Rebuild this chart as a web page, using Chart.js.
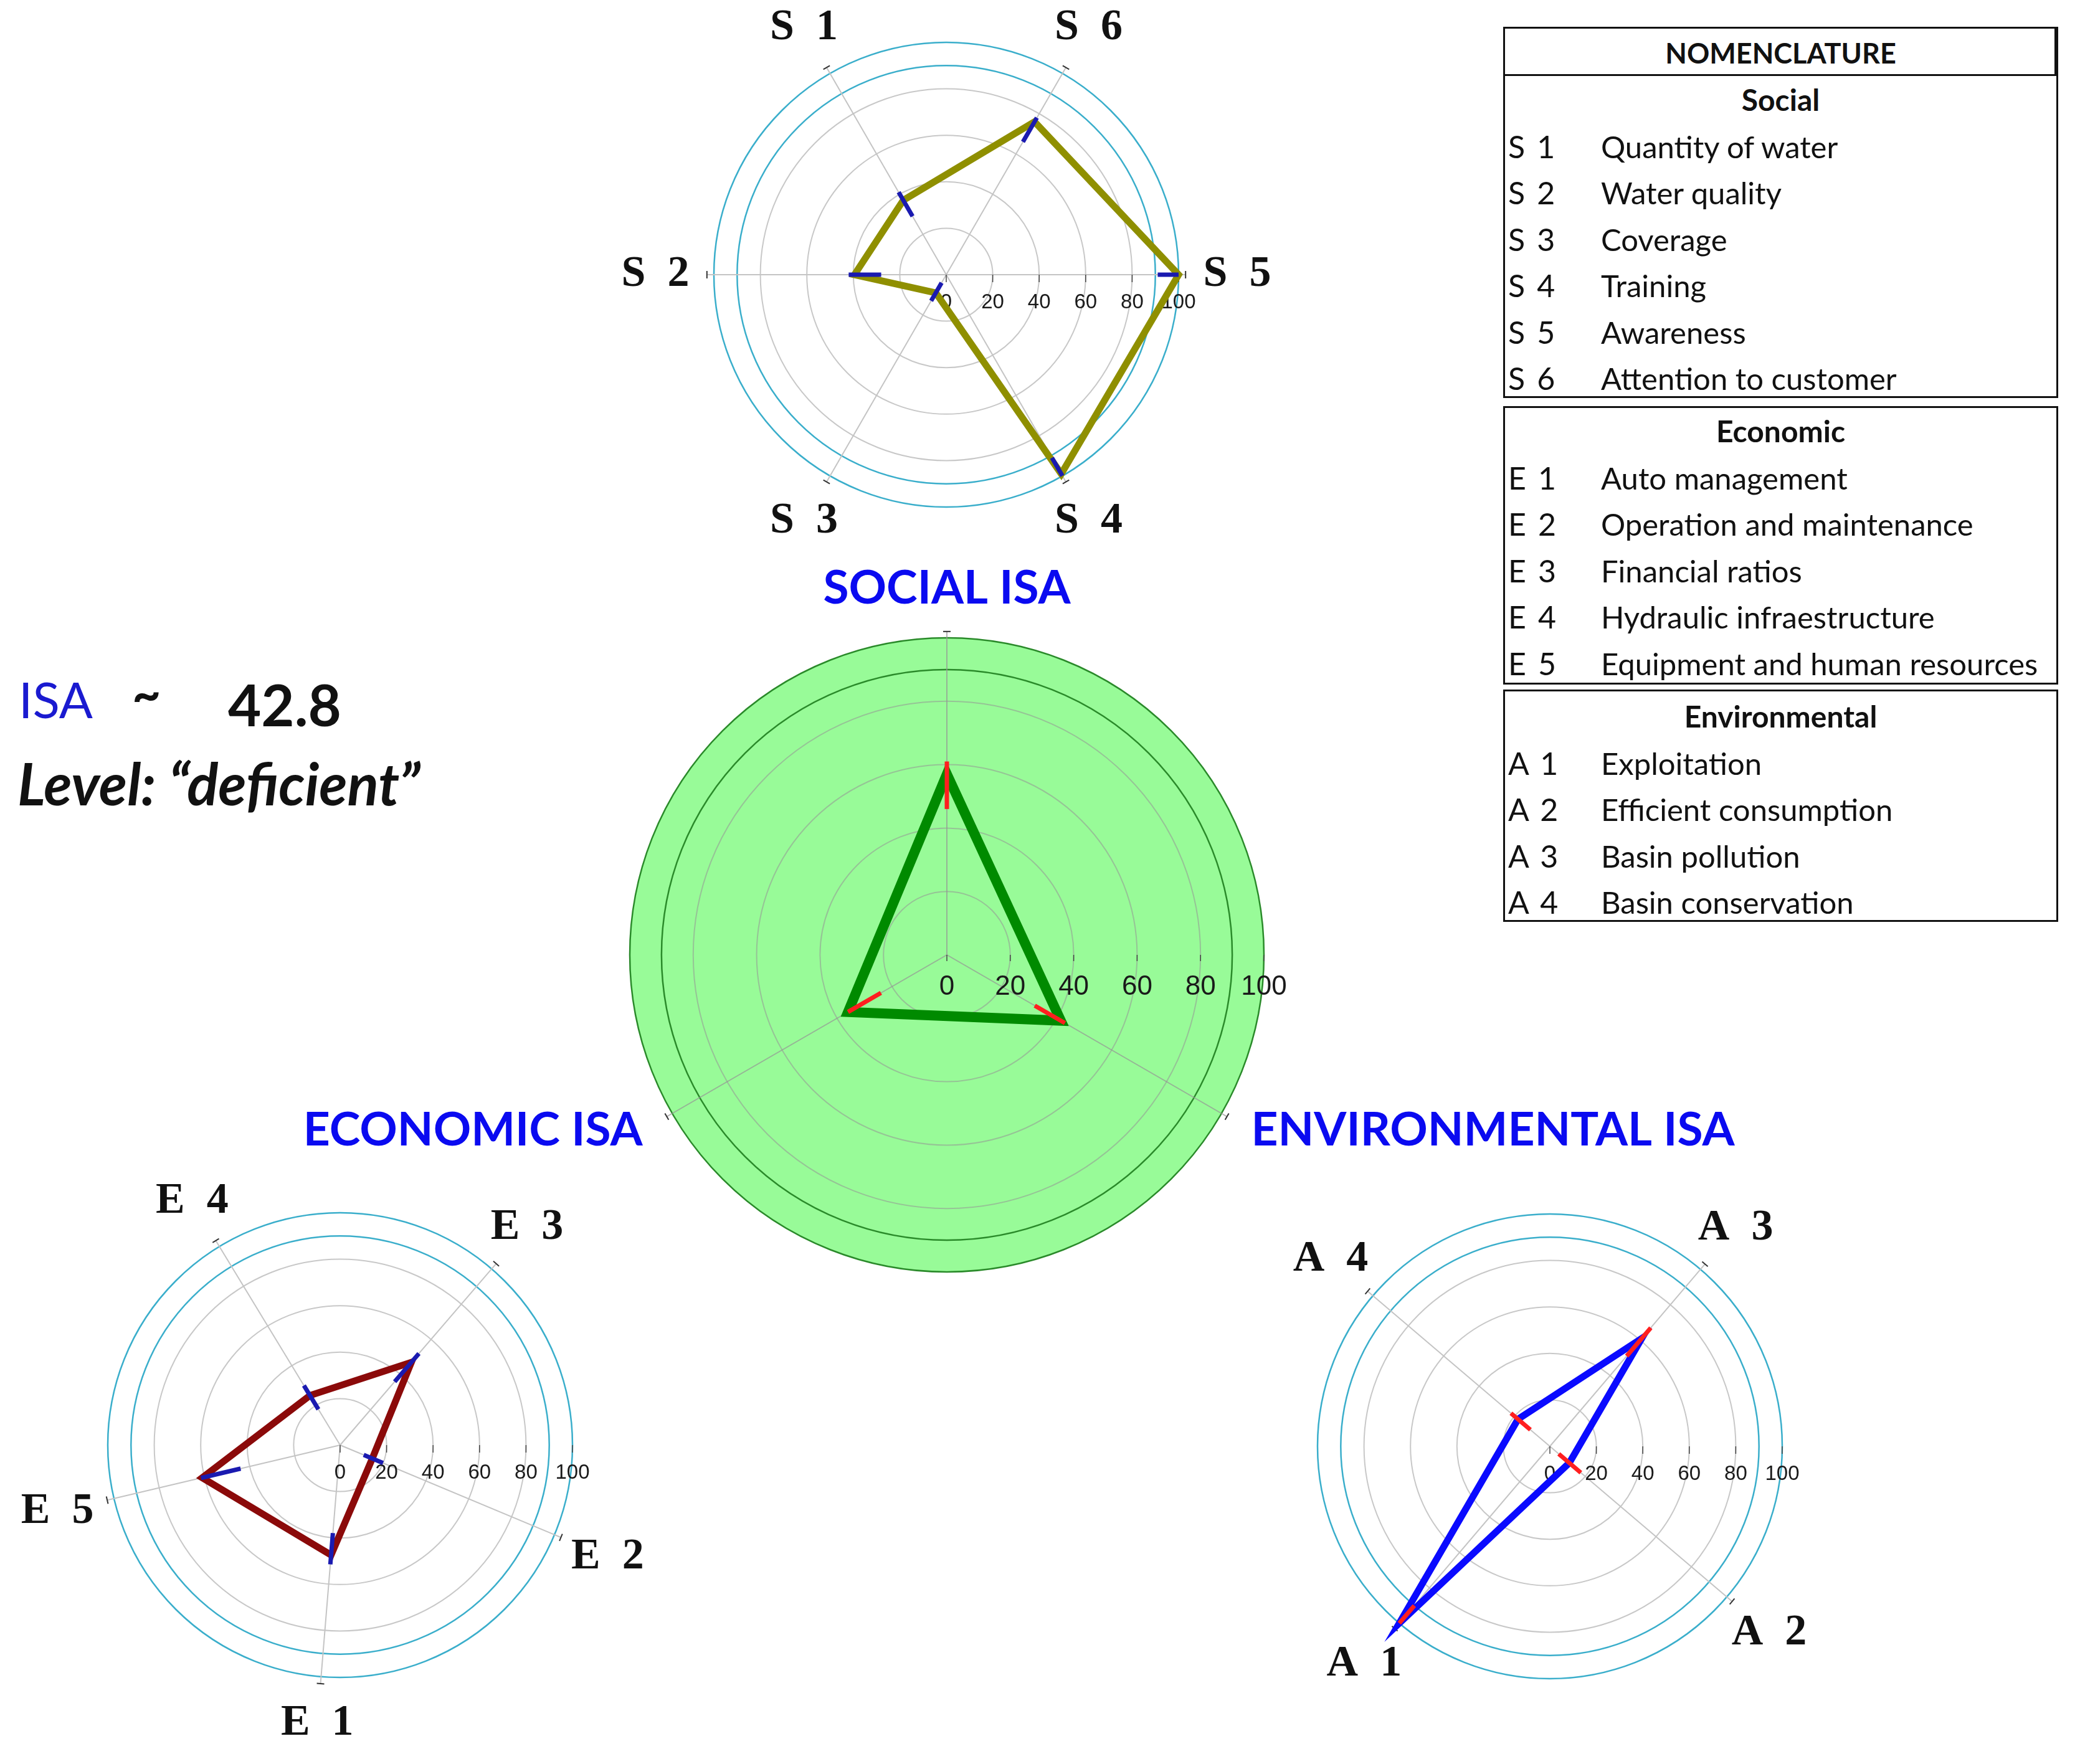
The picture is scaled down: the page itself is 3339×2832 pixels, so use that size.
<!DOCTYPE html>
<html>
<head>
<meta charset="utf-8">
<script src="https://cdn.jsdelivr.net/npm/chart.js@4.4.1/dist/chart.umd.min.js"></script>
<style>
    body { margin: 0; width: 3339px; height: 2832px; background: #fff; position: relative; overflow: hidden; }
    canvas { position: absolute; }
    .txt { position: absolute; white-space: pre; line-height: 1; }
    .box { position: absolute; border: 3px solid #111; box-sizing: border-box; }
    .row { position: absolute; white-space: pre; font-family: Lato, sans-serif; font-size: 50px; color: #111; height: 74px; line-height: 74px; }
</style>
</head>
<body>
<canvas id="isaChart" width="2600" height="1400" style="left:220px; top:833px"></canvas>
<canvas id="socialChart" width="1160" height="1160" style="left:939px; top:-139px"></canvas>
<canvas id="economicChart" width="1160" height="1160" style="left:-34px; top:1740px"></canvas>
<canvas id="environmentalChart" width="1160" height="1160" style="left:1908px; top:1742px"></canvas>

<div class="txt" id="isaLabel" style="left:30px; top:1082px; font-family:Lato; font-size:80px; color:#1a1ad0">ISA</div>
<div class="txt" style="left:212px; top:1072px; font-family:Lato; font-weight:bold; font-size:80px; color:#111">~</div>
<div class="txt" id="isaScore" style="left:366px; top:1085px; font-family:Lato; font-weight:bold; font-size:92px; color:#111"></div>
<div class="txt" id="isaLevel" style="left:28px; top:1211px; font-family:Lato; font-weight:bold; font-style:italic; font-size:93px; color:#111"></div>

<div id="nomenclature"></div>

<script>
// 지표 이름 (사회)
const socialCodes = ['S  1', 'S  2', 'S  3', 'S  4', 'S  5', 'S  6'];
const socialNames = ['Quantity of water', 'Water quality', 'Coverage', 'Training', 'Awareness', 'Attention to customer'];
const socialValues = [37, 39.5, 9, 99, 100, 76];
const socialLow = [29, 28, 4, 91, 91, 66];
const socialHigh = [41, 42, 13, 100, 100, 78];

// 경제
const economicCodes = ['E  1', 'E  2', 'E  3', 'E  4', 'E  5'];
const economicNames = ['Auto management', 'Operation and maintenance', 'Financial ratios', 'Hydraulic infraestructure', 'Equipment and human resources'];
const economicValues = [47.5, 15, 47, 25, 61];
const economicLow = [38, 11, 36, 18, 44];
const economicHigh = [51.5, 20, 52, 30, 61.5];

// 환경
const environmentalCodes = ['A  1', 'A  2', 'A  3', 'A  4'];
const environmentalNames = ['Exploitation', 'Efficient consumption', 'Basin pollution', 'Basin conservation'];
const environmentalValues = [100, 11, 61, 18];
const environmentalLow = [90, 5, 51, 11];
const environmentalHigh = [100, 17.5, 67, 22];

// 종합 ISA
const isaCategories = ['SOCIAL ISA', 'ECONOMIC ISA', 'ENVIRONMENTAL ISA'];
const isaValues = [57, 36, 41.5];
const isaLow = [46, 24, 32];
const isaHigh = [61, 36, 43];

const tickValues = [0, 20, 40, 60, 80, 100];
const isaScore = '42.8';
const isaLevel = 'deficient';

// 첫 항목부터 반시계 방향으로 배치
const ccw = arr => [arr[0], ...arr.slice(1).reverse()];

// 축 연장선, 눈금 라벨, 오차 막대, 축 이름
const polarExtras = {
    id: 'polarExtras',
    beforeDatasetsDraw(chart, args, o) {
        const r = chart.scales.r;
        const ctx = chart.ctx;
        const n = chart.data.labels.length;
        ctx.save();
        for (let i = 0; i < n; i++) {
            const a = r.getPointPositionForValue(i, 100);
            const b = r.getPointPositionForValue(i, o.spokeEnd);
            ctx.strokeStyle = o.spokeColor;
            ctx.lineWidth = 2;
            ctx.beginPath(); ctx.moveTo(a.x, a.y); ctx.lineTo(b.x, b.y); ctx.stroke();
            const px = -Math.sin(b.angle) * 6, py = Math.cos(b.angle) * 6;
            ctx.strokeStyle = '#333';
            ctx.beginPath(); ctx.moveTo(b.x - px, b.y - py); ctx.lineTo(b.x + px, b.y + py); ctx.stroke();
        }
        ctx.font = o.tickFont;
        ctx.fillStyle = '#1a1a1a';
        ctx.strokeStyle = '#444';
        ctx.lineWidth = 1.5;
        ctx.textAlign = 'center';
        ctx.textBaseline = 'middle';
        tickValues.forEach(v => {
            const x = r.xCenter + r.getDistanceFromCenterForValue(v);
            ctx.beginPath(); ctx.moveTo(x, r.yCenter); ctx.lineTo(x, r.yCenter + o.tickLen); ctx.stroke();
            ctx.fillText(String(v), x, r.yCenter + o.tickOffset);
        });
        ctx.restore();
    },
    afterDatasetsDraw(chart, args, o) {
        const r = chart.scales.r;
        const ctx = chart.ctx;
        ctx.save();
        ctx.strokeStyle = o.barColor;
        ctx.lineWidth = o.barWidth;
        o.low.forEach((lo, i) => {
            const a = r.getPointPositionForValue(i, lo);
            const b = r.getPointPositionForValue(i, o.high[i]);
            ctx.beginPath(); ctx.moveTo(a.x, a.y); ctx.lineTo(b.x, b.y); ctx.stroke();
        });
        ctx.font = o.labelFont;
        ctx.fillStyle = o.labelColor;
        chart.data.labels.forEach((label, i) => {
            const p = r.getPointPositionForValue(i, 100);
            const c = Math.cos(p.angle), s = Math.sin(p.angle);
            if (o.labelMode === 'center') {
                const d = r.drawingArea + o.labelGap + o.labelSpread * Math.abs(c);
                ctx.textAlign = 'center';
                ctx.textBaseline = 'middle';
                ctx.fillText(label, r.xCenter + d * c, r.yCenter + d * s);
            } else {
                const d = r.drawingArea + o.labelGap;
                if (Math.abs(c) < 0.05) {
                    ctx.textAlign = 'center';
                    ctx.textBaseline = s < 0 ? 'alphabetic' : 'top';
                } else {
                    ctx.textAlign = c > 0 ? 'left' : 'right';
                    ctx.textBaseline = 'middle';
                }
                ctx.fillText(label, r.xCenter + d * c, r.yCenter + d * s);
            }
        });
        ctx.restore();
    }
};

function createRadar(id, cfg) {
    const ctx = document.getElementById(id).getContext('2d');
    return new Chart(ctx, {
        type: 'radar',
        data: {
            labels: ccw(cfg.labels),
            datasets: [{
                data: ccw(cfg.values),
                borderColor: cfg.lineColor,
                borderWidth: cfg.lineWidth,
                pointRadius: 0,
                fill: false,
                tension: 0,
                clip: false
            }]
        },
        options: {
            responsive: false,
            animation: false,
            layout: { padding: cfg.padding },
            plugins: {
                legend: { display: false },
                tooltip: { enabled: false },
                polarExtras: {
                    low: ccw(cfg.low),
                    high: ccw(cfg.high),
                    barColor: cfg.barColor,
                    barWidth: cfg.barWidth,
                    spokeEnd: cfg.spokeEnd,
                    spokeColor: cfg.spokeColor,
                    tickFont: cfg.tickFont,
                    tickLen: cfg.tickLen,
                    tickOffset: cfg.tickOffset,
                    labelFont: cfg.labelFont,
                    labelColor: cfg.labelColor,
                    labelMode: cfg.labelMode,
                    labelGap: cfg.labelGap,
                    labelSpread: cfg.labelSpread || 0
                }
            },
            scales: {
                r: {
                    min: 0,
                    max: 100,
                    startAngle: cfg.startAngle,
                    backgroundColor: cfg.fill,
                    ticks: { display: false, stepSize: 10 },
                    pointLabels: { display: false },
                    grid: {
                        circular: true,
                        color: c => c.tick.value >= 90 ? cfg.outerRing : (c.tick.value % 20 === 0 ? cfg.midRing : 'rgba(0,0,0,0)'),
                        lineWidth: c => c.tick.value >= 90 ? 2.5 : 2
                    },
                    angleLines: { color: cfg.spokeColor, lineWidth: 2 }
                }
            }
        },
        plugins: [polarExtras]
    });
}

const smallChart = {
    padding: 207,
    barWidth: 7,
    spokeEnd: 103,
    spokeColor: '#c4c4c4',
    midRing: '#c8c8c8',
    outerRing: '#3aaecb',
    tickFont: '33px "Liberation Sans"',
    tickLen: 12,
    tickOffset: 45,
    labelFont: 'bold 70px "Liberation Serif"',
    labelColor: '#111',
    labelMode: 'center',
    labelGap: 74,
    labelSpread: 20,
    lineWidth: 11
};

function buildNomenclature() {
    const root = document.getElementById('nomenclature');
    const add = (cls, css, text) => {
        const el = document.createElement('div');
        el.className = cls;
        el.style.cssText = css;
        if (text !== undefined) el.textContent = text;
        root.appendChild(el);
    };
    add('box', 'left:2413px; top:43px; width:891px; height:596px');
    add('box', 'left:2413px; top:43px; width:891px; height:79px; border-right-width:6px');
    add('row', 'left:2413px; top:48px; width:891px; text-align:center; font-weight:bold; font-size:45px', 'NOMENCLATURE');
    const sections = [
        { title: 'Social', codes: socialCodes, names: socialNames, boxTop: 119, boxBottom: 639, titleY: 160 },
        { title: 'Economic', codes: economicCodes, names: economicNames, boxTop: 652, boxBottom: 1099, titleY: 692 },
        { title: 'Environmental', codes: environmentalCodes, names: environmentalNames, boxTop: 1107, boxBottom: 1480, titleY: 1150 }
    ];
    sections.forEach((sec, k) => {
        if (k > 0) add('box', `left:2413px; top:${sec.boxTop}px; width:891px; height:${sec.boxBottom - sec.boxTop}px`);
        add('row', `left:2413px; top:${sec.titleY - 37}px; width:891px; text-align:center; font-weight:bold; font-size:48px`, sec.title);
        sec.codes.forEach((code, i) => {
            const y = sec.titleY + 74.5 * (i + 1) - 37;
            add('row', `left:2421px; top:${y}px`, code.replace('  ', ' \u2009'));
            add('row', `left:2570px; top:${y}px; font-size:49px`, sec.names[i]);
        });
    });
}

document.addEventListener('DOMContentLoaded', function() {
    document.getElementById('isaScore').textContent = isaScore;
    document.getElementById('isaLevel').textContent = 'Level: \u201c' + isaLevel + '\u201d';
    buildNomenclature();

    createRadar('isaChart', {
        labels: isaCategories, values: isaValues, low: isaLow, high: isaHigh,
        startAngle: 0,
        padding: { left: 791, right: 791, top: 191, bottom: 191 },
        lineColor: '#008a00', lineWidth: 16,
        barColor: '#ff1f1f', barWidth: 7,
        fill: '#98fb98',
        midRing: 'rgba(150,150,150,0.55)', outerRing: '#2a8a2a',
        spokeEnd: 102, spokeColor: 'rgba(150,150,150,0.7)',
        tickFont: '44px "Liberation Sans"', tickLen: 10, tickOffset: 52,
        labelFont: 'bold 75px Lato', labelColor: '#0a0af0',
        labelMode: 'side', labelGap: 55
    });

    createRadar('socialChart', Object.assign({}, smallChart, {
        labels: socialCodes, values: socialValues, low: socialLow, high: socialHigh,
        startAngle: -30, lineColor: '#8f8f00', barColor: '#1a1ab0'
    }));

    createRadar('economicChart', Object.assign({}, smallChart, {
        labels: economicCodes, values: economicValues, low: economicLow, high: economicHigh,
        startAngle: 184.7, lineColor: '#8b0a0a', barColor: '#1a1ab0'
    }));

    createRadar('environmentalChart', Object.assign({}, smallChart, {
        labels: environmentalCodes, values: environmentalValues, low: environmentalLow, high: environmentalHigh,
        startAngle: 220.4, lineColor: '#0a0aff', barColor: '#ff1f1f'
    }));
});
</script>
</body>
</html>
